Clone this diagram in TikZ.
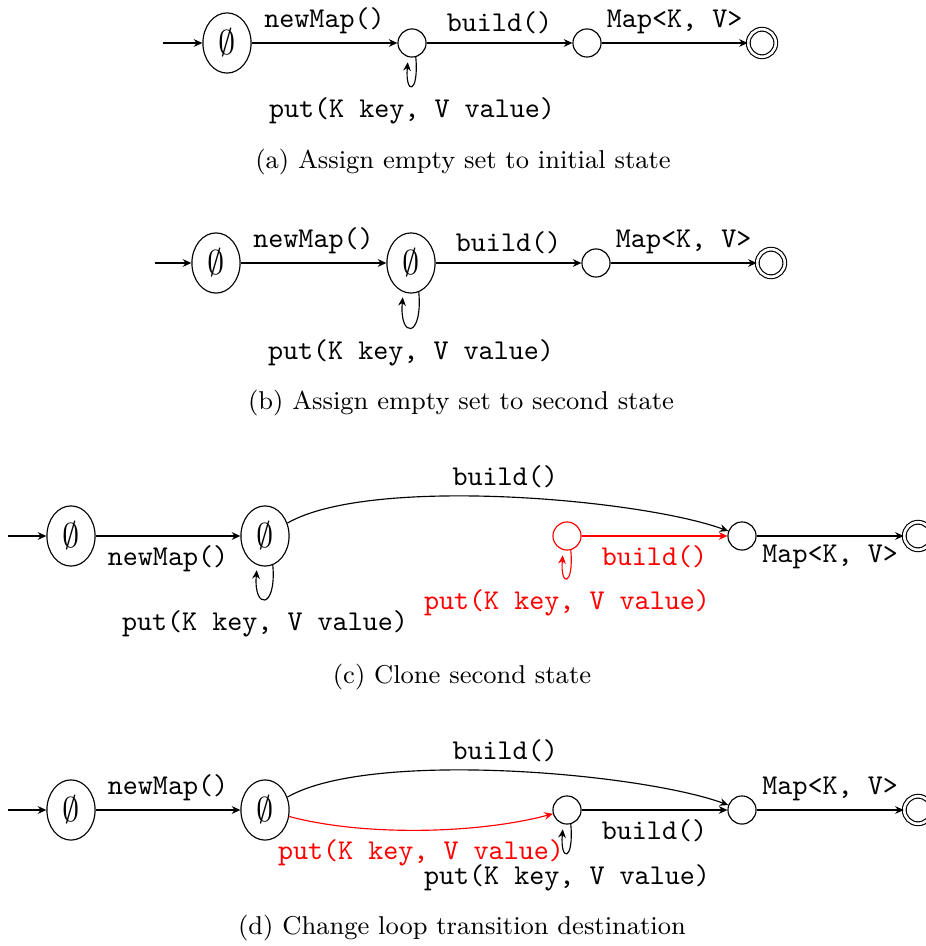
\documentclass[tikz,border=0pt]{standalone}
\usetikzlibrary{shapes.geometric,arrows.meta}
\begin{document}
\begin{tikzpicture}[x=0.3488pt,y=0.3488pt,
  >={Stealth[length=3pt,width=2.7pt,inset=1pt]},
  emptyst/.style={draw,ellipse,minimum width=16.8pt,minimum height=21pt,inner sep=0pt,font=\large},
  st/.style={draw,circle,minimum size=9.8pt,inner sep=0pt},
  acc/.style={draw,circle,minimum size=9.6pt,inner sep=0pt,double,double distance=0.9pt},
  lbl/.style={font=\ttfamily\fontsize{10}{12}\selectfont,inner sep=3pt},
  looplbl/.style={lbl,inner sep=4pt},
  captxt/.style={font=\fontsize{9.0}{11}\selectfont,inner sep=0pt},
  loopsh/.style={->,shorten >=1.8pt},
]
\useasboundingbox (0,0) rectangle (926,-946);

% (a)
\coordinate (a0) at (163,-43);
\node[emptyst] (a1) at (227,-43) {$\emptyset$};
\node[st] (a2) at (412,-43) {};
\node[st] (a3) at (587,-43) {};
\node[acc] (a4) at (762,-43) {};
\draw[->] (a0) -- (a1);
\draw[->] (a1) -- node[lbl,above] {newMap()} (a2);
\draw[->] (a2) -- node[lbl,above] {build()} (a3);
\draw[->] (a3) -- node[lbl,above] {Map<K, V>} (a4);
\draw[loopsh] (a2.-75) .. controls +(-85:38) and +(-95:38) .. (a2.-105) node[looplbl,midway,below] {put(K key, V value)};
\node[captxt] (capa) at (463,-162) {(a) Assign empty set to initial state};

% (b)
\coordinate (b0) at (155,-263);
\node[emptyst] (b1) at (216,-263) {$\emptyset$};
\node[emptyst] (b2) at (411,-263) {$\emptyset$};
\node[st] (b3) at (596,-263) {};
\node[acc] (b4) at (771,-263) {};
\draw[->] (b0) -- (b1);
\draw[->] (b1) -- node[lbl,above] {newMap()} (b2);
\draw[->] (b2) -- node[lbl,above] {build()} (b3);
\draw[->] (b3) -- node[lbl,above] {Map<K, V>} (b4);
\draw[loopsh] (b2.-75) .. controls +(-85:47) and +(-95:47) .. (b2.-105) node[looplbl,midway,below] {put(K key, V value)};
\node[captxt] (capb) at (461,-403) {(b) Assign empty set to second state};

% (c)
\coordinate (c0) at (8,-536);
\node[emptyst] (c1) at (71,-536) {$\emptyset$};
\node[emptyst] (c2) at (265,-536) {$\emptyset$};
\node[st,draw=red] (cr) at (567,-536) {};
\node[st] (c3) at (742,-536) {};
\node[acc] (c4) at (918,-536) {};
\draw[->] (c0) -- (c1);
\draw[->] (c1) -- node[lbl,below] {newMap()} (c2);
\draw[loopsh] (c2.-75) .. controls +(-85:45) and +(-95:45) .. (c2.-105) node[looplbl,midway,below] {put(K key, V value)};
\draw[->] (c2) to[out=30,in=160,looseness=0.55] node[lbl,above] {build()} (c3);
\draw[->,red] (cr) -- node[lbl,below] {build()} (c3);
\draw[loopsh,red] (cr.-75) .. controls +(-85:37) and +(-95:37) .. (cr.-105) node[looplbl,midway,below] {put(K key, V value)};
\draw[->] (c3) -- node[lbl,below] {Map<K, V>} (c4);
\node[captxt] (capc) at (462,-677) {(c) Clone second state};

% (d)
\coordinate (d0) at (8,-810);
\node[emptyst] (d1) at (71,-810) {$\emptyset$};
\node[emptyst] (d2) at (265,-810) {$\emptyset$};
\node[st] (d3) at (567,-810) {};
\node[st] (d4) at (742,-810) {};
\node[acc] (d5) at (918,-810) {};
\draw[->] (d0) -- (d1);
\draw[->] (d1) -- node[lbl,above] {newMap()} (d2);
\draw[->] (d2) to[out=30,in=160,looseness=0.55] node[lbl,above] {build()} (d4);
\draw[->,red] (d2) to[out=-15,in=195,looseness=0.75] node[lbl,below] {put(K key, V value)} (d3);
\draw[loopsh] (d3.-75) .. controls +(-85:38) and +(-95:38) .. (d3.-105) node[looplbl,midway,below] {put(K key, V value)};
\draw[->] (d3) -- node[lbl,below] {build()} (d4);
\draw[->] (d4) -- node[lbl,above] {Map<K, V>} (d5);
\node[captxt] (capd) at (462,-928) {(d) Change loop transition destination};
\end{tikzpicture}
\end{document}
